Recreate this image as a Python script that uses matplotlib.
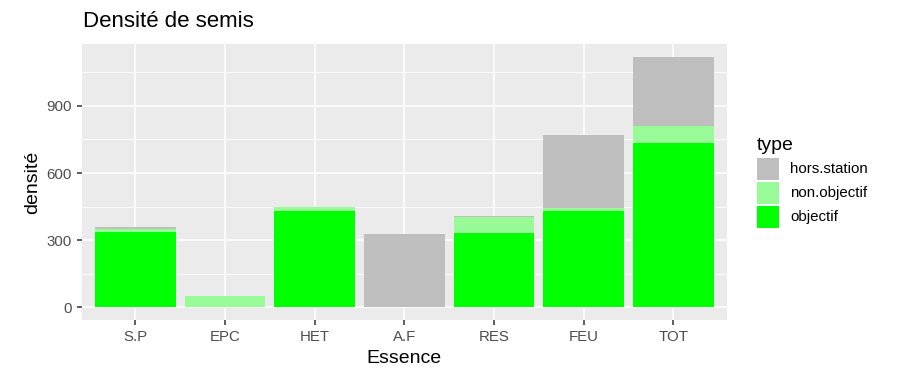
import matplotlib
matplotlib.use("Agg")
import matplotlib.pyplot as plt
from matplotlib.patches import Rectangle
import numpy as np

plt.rcParams['font.family'] = ['Liberation Sans', 'DejaVu Sans']

categories = ["S.P", "EPC", "HET", "A.F", "RES", "FEU", "TOT"]
objectif = [338, 0, 430, 0, 334, 430, 732]
non_objectif = [12, 49, 18, 0, 70, 12, 79]
hors_station = [8, 0, 0, 329, 4, 326, 309]

types = ["hors.station", "non.objectif", "objectif"]
colors = {"hors.station": "#BEBEBE", "non.objectif": "#98FB98", "objectif": "#00FF00"}

fig = plt.figure(figsize=(8.97, 3.69), dpi=100)
ax = fig.add_axes([0.091, 0.1328, 0.7195, 0.748])
ax.set_facecolor("#EBEBEB")

x = np.arange(1, len(categories) + 1)
o = np.array(objectif)
n = np.array(non_objectif)
h = np.array(hors_station)
w = 0.9
ax.bar(x, o, width=w, color=colors["objectif"], zorder=3)
ax.bar(x, n, bottom=o, width=w, color=colors["non.objectif"], zorder=3)
ax.bar(x, h, bottom=o + n, width=w, color=colors["hors.station"], zorder=3)

tot = (o + n + h).max()
ax.set_ylim(-0.05 * tot, 1.05 * tot)
ax.set_xlim(0.4, len(categories) + 0.6)
ax.set_xticks(x)
ax.set_xticklabels(categories)
ax.set_yticks([0, 300, 600, 900])
ax.set_yticks([150, 450, 750, 1050], minor=True)
ax.grid(True, which="major", color="white", linewidth=1.1, zorder=0)
ax.grid(True, which="minor", axis="y", color="white", linewidth=0.55, zorder=0)
for s in ax.spines.values():
    s.set_visible(False)
ax.tick_params(axis="both", which="major", colors="#333333", labelcolor="#4D4D4D",
               labelsize=10.8, length=3.5, width=1.1)
ax.tick_params(axis="both", which="minor", length=0)
ax.set_xlabel("Essence", fontsize=14, color="black", labelpad=4.5)
ax.set_ylabel("densité", fontsize=14, color="black", labelpad=4)
fig.text(0.0925, 0.943, "Densité de semis", fontsize=16, color="black",
         ha="left", va="center")

# legend
W, H = 897.0, 369.0
fig.text(757 / W, 1 - 146 / H, "type", fontsize=14, ha="left", va="center")
key_y = [158, 182, 206]
for t, ky in zip(types, key_y):
    fig.patches.append(Rectangle((757 / W, 1 - (ky + 22) / H), 22 / W, 22 / H,
                                 transform=fig.transFigure, facecolor=colors[t],
                                 edgecolor="none"))
    fig.text(790 / W, 1 - (ky + 11) / H, t, fontsize=10.8, ha="left", va="center",
             color="black")

fig.savefig("out.png", dpi=100)
